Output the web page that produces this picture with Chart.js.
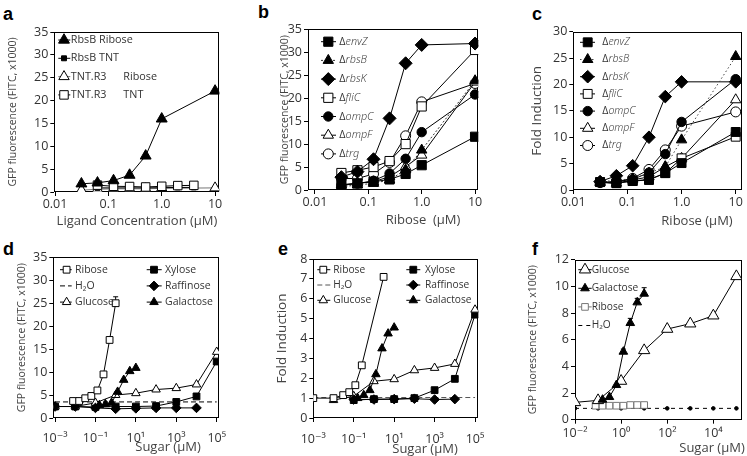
<!DOCTYPE html>
<html><head><meta charset="utf-8">
<script src="https://cdn.jsdelivr.net/npm/chart.js@4.4.1/dist/chart.umd.min.js"></script>
<style>
html,body{margin:0;padding:0;background:#fff;overflow:hidden;width:747px;height:456px;position:relative;font-family:'Open Sans','DejaVu Sans',sans-serif;}
canvas{position:absolute;}
.lt{position:absolute;font-family:'Liberation Sans',Arial,sans-serif;font-weight:bold;font-size:18px;line-height:18px;color:#000;}
.xt{position:absolute;font-size:13px;line-height:13px;color:#444;white-space:pre;transform:translate(-50%,-50%);}
</style></head><body>

<div class="lt" style="left:3px;top:5px">a</div>
<div class="lt" style="left:258px;top:3px">b</div>
<div class="lt" style="left:532px;top:5px">c</div>
<div class="lt" style="left:3px;top:240px">d</div>
<div class="lt" style="left:278px;top:240px">e</div>
<div class="lt" style="left:532px;top:240px">f</div>

<canvas id="ca" width="245" height="228" style="left:0;top:0"></canvas>
<canvas id="cb" width="250" height="228" style="left:245px;top:0"></canvas>
<canvas id="cc" width="265" height="228" style="left:495px;top:0"></canvas>
<canvas id="cd" width="245" height="228" style="left:0;top:228px"></canvas>
<canvas id="ce" width="250" height="228" style="left:245px;top:228px"></canvas>
<canvas id="cf" width="265" height="228" style="left:495px;top:228px"></canvas>

<div class="xt" style="left:137px;top:220px">Ligand Concentration (µM)</div>
<div class="xt" style="left:423px;top:219px">Ribose  (µM)</div>
<div class="xt" style="left:697px;top:220px">Ribose (µM)</div>
<div class="xt" style="left:168px;top:446px">Sugar (µM)</div>
<div class="xt" style="left:425px;top:448px">Sugar (µM)</div>
<div class="xt" style="left:712px;top:447px">Sugar (µM)</div>

<script>
// ---------------- DATA ----------------
// Panel a (GFP fluorescence x1000 vs ligand concentration, µM)
const a_conc = [0.03125, 0.0625, 0.125, 0.25, 0.5, 1, 10];
const a_concTNT = [0.0625, 0.125, 0.25, 0.5, 1, 2, 4];
const a_rbsB_ribose = [1.8, 2.0, 2.5, 3.7, 7.9, 16.0, 22.1];
const a_rbsB_TNT = [0.9, 0.9, 0.9, 0.9, 0.95, 1.0, 1.0];
const a_tntR3_ribose = [0.4, 0.6, 0.7, 0.7, 0.7, 0.8, 0.9];
const a_tntR3_TNT = [1.5, 1.25, 1.2, 1.1, 1.25, 1.4, 1.45];
const ribTickVals = [0.01, 0.1, 1, 10];
const ribTickLabels = ['0.01', '0.1', '1.0', '10'];

// Panel b (GFP fluorescence x1000 vs ribose, µM)
const b_ribose = [0.03125, 0.0625, 0.125, 0.25, 0.5, 1, 10];
const b_envZ = [1.1, 1.45, 1.8, 2.3, 3.5, 5.4, 11.6];
const b_rbsB = [0.7, 1.1, 1.45, 2.2, 4.4, 8.7, 23.8];
const b_rbsK = [2.8, 4.0, 6.7, 15.6, 27.6, 31.6, 31.9];
const b_fliC = [3.7, 4.3, 5.0, 6.3, 10.0, 18.2, 30.5];
const b_ompC = [1.0, 1.4, 2.0, 3.6, 6.8, 12.6, 20.8];
const b_ompF = [1.1, 1.5, 1.8, 2.9, 5.1, 7.6, 23.5];
const b_trg = [2.5, 2.5, 3.5, 6.0, 11.8, 19.2, 23.2];

// Panel c (fold induction vs ribose, µM)
const c_ribose = [0.03125, 0.0625, 0.125, 0.25, 0.5, 1, 10];
const c_envZ = [1.5, 1.3, 1.7, 1.9, 3.2, 5.1, 11.0];
const c_rbsB = [1.5, 1.9, 2.1, 3.2, 4.4, 9.5, 25.3];
const c_rbsK = [1.6, 2.7, 4.6, 10.0, 17.7, 20.5, 20.5];
const c_fliC = [1.5, 1.3, 1.7, 2.0, 3.2, 6.0, 10.1];
const c_ompC = [1.4, 1.6, 2.0, 3.3, 6.8, 12.9, 21.0];
const c_ompF = [1.4, 1.3, 1.9, 2.5, 4.4, 6.0, 17.1];
const c_trg = [1.4, 1.6, 2.2, 3.9, 7.6, 12.1, 14.8];

// Panel d (GFP fluorescence x1000 vs sugar, µM)
const sugarX = [0.001, 0.01, 0.1, 1, 10, 100, 1000, 10000, 100000];
const d_riboseX = [0.0078125, 0.015625, 0.03125, 0.0625, 0.125, 0.25, 0.5, 1];
const d_ribose = [3.7, 3.7, 4.3, 4.8, 6.0, 9.5, 17.0, 25.0];
const d_riboseErr = [0, 0, 0, 0, 0, 0, 0, 1.4];
const d_h2o = [3.5, 3.5, 3.5, 3.5, 3.5, 3.5, 3.5, 3.5, 3.5];
const d_glucose = [2.5, 2.5, 3.3, 5.0, 5.4, 6.2, 6.5, 7.3, 14.4];
const d_xylose = [2.5, 2.5, 2.4, 2.5, 2.5, 2.6, 3.5, 4.7, 12.3];
const raffX = [0.001, 0.01, 0.1, 1, 10, 100, 1000, 10000];
const d_raffinose = [2.5, 2.5, 2.2, 2.0, 2.1, 2.2, 2.2, 2.2];
const galX = [0.15625, 0.3125, 0.625, 1.25, 2.5, 5, 10];
const d_galactose = [2.8, 3.0, 3.3, 5.7, 8.3, 10.2, 10.9];
const sugTickVals = [1e-3, 1e-1, 1e1, 1e3, 1e5];
const sugTickLabels = ['10⁻³', '10⁻¹', '10¹', '10³', '10⁵'];

// Panel e (fold induction vs sugar, µM)
const e_riboseX = [0.001, 0.01, 0.03, 0.06, 0.12, 0.25, 3];
const e_ribose = [1.0, 1.0, 1.15, 1.3, 1.65, 2.65, 7.1];
const e_h2o = [1.03, 1.03, 1.03, 1.03, 1.03, 1.03, 1.03, 1.03, 1.03];
const e_glucoseX = [0.01, 0.1, 1, 10, 100, 1000, 10000, 100000];
const e_glucose = [0.9, 1.1, 1.85, 1.95, 2.4, 2.52, 2.72, 5.45];
const e_xyloseX = [0.1, 1, 10, 100, 1000, 10000, 100000];
const e_xylose = [0.9, 0.95, 0.95, 1.0, 1.4, 1.97, 5.2];
const e_raffX = [0.1, 1, 10, 100, 1000, 10000];
const e_raffinose = [0.93, 0.93, 0.95, 0.97, 0.93, 0.95];
const e_galactose = [1.0, 1.15, 1.4, 2.2, 3.5, 4.25, 4.55];

// Panel f (GFP fluorescence x1000 vs sugar, µM)
const f_glucoseX = [0.01, 0.1, 1, 10, 100, 1000, 10000, 100000];
const f_glucose = [1.3, 1.45, 2.9, 5.2, 6.8, 7.2, 7.8, 10.75];
const f_galactose = [1.5, 1.7, 2.6, 5.1, 7.25, 8.8, 9.45];
const f_galErr = [0, 0, 0, 0.2, 0.35, 0.3, 0.45];
const f_riboseX = [0.078125, 0.15625, 0.3125, 0.625, 1.25, 2.5, 5, 10];
const f_ribose = [1.05, 1.05, 1.05, 1.05, 1.05, 1.1, 1.1, 1.1];
const f_h2oX = [0.01, 0.1, 1, 10, 100, 1000, 10000, 100000];
const f_h2o = [0.85, 0.85, 0.85, 0.85, 0.85, 0.85, 0.85, 0.85];
const fTickVals = [1e-2, 1, 1e2, 1e4];
const fTickLabels = ['10⁻²', '10⁰', '10²', '10⁴'];

// ---------------- RENDERING ----------------
const FONT = "'Open Sans','DejaVu Sans',sans-serif";
const IFONT = "'Noto Sans','Liberation Sans','DejaVu Sans',sans-serif";
Chart.defaults.font.family = FONT;
Chart.defaults.color = '#333';

function ser(label, xs, ys, st) {
  return Object.assign({
    label, data: xs.map((x, i) => ({x: x, y: ys[i]})),
    borderColor: '#000', borderWidth: 1, pointBorderColor: '#000', pointBorderWidth: 1,
    pointBackgroundColor: '#000', pointStyle: 'circle', pointRadius: 4.7,
    showLine: true, fill: false, tension: 0
  }, st);
}
const FT = r => ({pointStyle: 'triangle', pointRadius: r, pointBackgroundColor: '#000'});
const OT = r => ({pointStyle: 'triangle', pointRadius: r, pointBackgroundColor: '#fff'});
const FS = r => ({pointStyle: 'rect', pointRadius: r, pointBackgroundColor: '#000'});
const OS = r => ({pointStyle: 'rect', pointRadius: r, pointBackgroundColor: '#fff'});
const FD = r => ({pointStyle: 'rectRot', pointRadius: r, pointBackgroundColor: '#000'});
const FC = r => ({pointStyle: 'circle', pointRadius: r, pointBackgroundColor: '#000'});
const OC = r => ({pointStyle: 'circle', pointRadius: r, pointBackgroundColor: '#fff'});

const boxPlugin = {
  id: 'box',
  beforeDatasetsDraw(chart) {
    const {ctx, chartArea: c} = chart;
    ctx.save(); ctx.strokeStyle = '#000'; ctx.lineWidth = 1;
    const l = Math.round(c.left) + 0.5, t = Math.round(c.top) + 0.5, r = Math.round(c.right) - 0.5, b = Math.round(c.bottom) - 0.5;
    ctx.strokeRect(l, t, r - l, b - t);
    ctx.restore();
  }
};
const errPlugin = {
  id: 'errBars',
  beforeDatasetsDraw(chart, args, o) {
    if (!o || !o.list) return;
    const ctx = chart.ctx, xs = chart.scales.x, ys = chart.scales.y;
    ctx.save(); ctx.strokeStyle = '#000'; ctx.lineWidth = 1;
    for (const e of o.list) {
      chart.data.datasets[e.ds].data.forEach((p, i) => {
        const d = e.err[i]; if (!d) return;
        const px = xs.getPixelForValue(p.x), y0 = ys.getPixelForValue(p.y), y1 = ys.getPixelForValue(p.y + d);
        ctx.beginPath(); ctx.moveTo(px, y0); ctx.lineTo(px, y1);
        ctx.moveTo(px - 2.5, y1); ctx.lineTo(px + 2.5, y1); ctx.stroke();
      });
    }
    ctx.restore();
  }
};
const legendPlugin = {
  id: 'boxLegend',
  afterDatasetsDraw(chart, args, o) {
    if (!o || !o.items) return;
    const ctx = chart.ctx, ca = chart.chartArea;
    ctx.save(); ctx.textBaseline = 'middle'; ctx.textAlign = 'left';
    for (const it of o.items) {
      const ds = chart.data.datasets[it.ds];
      const y = ca.top + it.y;
      ctx.strokeStyle = ds.borderColor; ctx.lineWidth = 1; ctx.setLineDash(ds.borderDash || []);
      ctx.beginPath(); ctx.moveTo(ca.left + it.l1, y); ctx.lineTo(ca.left + it.l2, y); ctx.stroke();
      ctx.setLineDash([]);
      if (!it.noMarker && ds.pointRadius > 0) {
        ctx.fillStyle = ds.pointBackgroundColor; ctx.strokeStyle = ds.pointBorderColor; ctx.lineWidth = 1;
        Chart.helpers.drawPoint(ctx, {pointStyle: ds.pointStyle, radius: ds.pointRadius, rotation: 0, borderWidth: 1}, ca.left + it.mx, y);
      }
      ctx.fillStyle = '#333';
      let tx = ca.left + it.tx;
      const parts = ds.label.split('\t');
      const sz = o.size;
      if (parts[0].startsWith('Δ')) {
        ctx.font = 'normal 400 ' + sz + 'px ' + FONT; ctx.fillText('Δ', tx, y); tx += ctx.measureText('Δ').width;
        ctx.fillStyle = '#444';
        ctx.font = 'italic 300 ' + sz + 'px ' + IFONT; ctx.fillText(parts[0].slice(1), tx, y);
      } else {
        ctx.font = 'normal 400 ' + sz + 'px ' + FONT; ctx.fillText(parts[0], tx, y);
      }
      if (parts[1]) { ctx.font = 'normal 400 ' + sz + 'px ' + FONT; ctx.fillText(parts[1], ca.left + o.tab, y); }
    }
    ctx.restore();
  }
};
function legendCol(idxs, s) {
  return idxs.map((d, k) => ({ds: d, y: s.y0 + k * s.dy, mx: s.mx, tx: s.tx, l1: s.l1, l2: s.l2,
    noMarker: (s.noMarker || []).includes(d)}));
}

function buildChart(id, p) {
  const grid = {display: true, drawOnChartArea: false, drawTicks: true, tickLength: 4, color: '#000'};
  return new Chart(document.getElementById(id), {
    type: 'line',
    data: {datasets: p.datasets},
    options: {
      responsive: false, animation: false, events: [],
      layout: {padding: {left: 0, top: p.padTop, right: p.padRight, bottom: 0}},
      plugins: {legend: {display: false}, tooltip: {enabled: false},
        boxLegend: p.legend, errBars: {list: p.errors || []}},
      scales: {
        x: {type: 'logarithmic', min: p.xMin, max: p.xMax,
          afterBuildTicks: s => { s.ticks = p.xTicks.map(v => ({value: v})); },
          afterFit: s => { s.height = p.xHeight; },
          ticks: {autoSkip: false, maxRotation: 0, minRotation: 0, padding: p.xPad, font: {size: 12.5}, color: '#333',
            callback: (v, i) => p.xLabels[i]},
          grid: grid, border: {display: false}},
        y: {type: 'linear', min: 0, max: p.yMax,
          afterFit: s => { s.width = p.yWidth; },
          ticks: {stepSize: p.yStep, padding: 2, font: {size: 12.5}, color: '#333'},
          grid: grid, border: {display: false},
          title: {display: true, text: p.yTitle, color: '#444', font: {size: p.yTitleSize},
            padding: {top: p.yTitlePad, bottom: 0}}}
      }
    },
    plugins: [boxPlugin, errPlugin, legendPlugin]
  });
}

const GFP = 'GFP fluorescence (FITC, x1000)';
const FOLD = 'Fold Induction';

// Panel a
buildChart('ca', {
  datasets: [
    ser('RbsB Ribose', a_conc, a_rbsB_ribose, Object.assign(FT(6.3), {order: 0})),
    ser('RbsB TNT', a_concTNT, a_rbsB_TNT, Object.assign(FS(3.5), {order: 2})),
    ser('TNT.R3\tRibose', a_conc, a_tntR3_ribose, Object.assign(OT(6), {borderColor: '#777', order: 3})),
    ser('TNT.R3\tTNT', a_concTNT, a_tntR3_TNT, Object.assign(OS(6), {order: 1}))
  ],
  xMin: 0.0097, xMax: 12, xTicks: ribTickVals, xLabels: ribTickLabels,
  yMax: 35, yStep: 5, yTitle: GFP, yTitleSize: 10.5, yTitlePad: 6.7,
  yWidth: 54.3, xHeight: 36, xPad: 1, padTop: 32, padRight: 25.7,
  legend: {size: 10.8, tab: 69, items: legendCol([0, 1, 2, 3], {y0: 8, dy: 18.3, mx: 9.7, tx: 16.5, l1: 4, l2: 16})}
});

// Panel b
buildChart('cb', {
  datasets: [
    ser('ΔenvZ', b_ribose, b_envZ, FS(6.5)),
    ser('ΔrbsB', b_ribose, b_rbsB, Object.assign(FT(6), {borderDash: [2, 2], borderColor: '#333'})),
    ser('ΔrbsK', b_ribose, b_rbsK, FD(6.5)),
    ser('ΔfliC', b_ribose, b_fliC, OS(6.5)),
    ser('ΔompC', b_ribose, b_ompC, FC(4.7)),
    ser('ΔompF', b_ribose, b_ompF, OT(6)),
    ser('Δtrg', b_ribose, b_trg, OC(5))
  ],
  xMin: 0.0074, xMax: 11.5, xTicks: ribTickVals, xLabels: ribTickLabels,
  yMax: 35, yStep: 5, yTitle: GFP, yTitleSize: 10.5, yTitlePad: 33.7,
  yWidth: 63, xHeight: 38, xPad: 1, padTop: 29.3, padRight: 16.7,
  legend: {size: 10.8, items: legendCol([0, 1, 2, 3, 4, 5, 6], {y0: 12.4, dy: 18.7, mx: 20.3, tx: 31.3, l1: 13, l2: 28})}
});

// Panel c
buildChart('cc', {
  datasets: [
    ser('ΔenvZ', c_ribose, c_envZ, FS(6.3)),
    ser('ΔrbsB', c_ribose, c_rbsB, Object.assign(FT(6), {borderDash: [1.5, 2.5], borderColor: '#444'})),
    ser('ΔrbsK', c_ribose, c_rbsK, FD(6.3)),
    ser('ΔfliC', c_ribose, c_fliC, OS(6.3)),
    ser('ΔompC', c_ribose, c_ompC, FC(4.7)),
    ser('ΔompF', c_ribose, c_ompF, OT(6)),
    ser('Δtrg', c_ribose, c_trg, OC(5))
  ],
  xMin: 0.01, xMax: 12.9, xTicks: ribTickVals, xLabels: ribTickLabels,
  yMax: 30, yStep: 5, yTitle: FOLD, yTitleSize: 13.5, yTitlePad: 33.6,
  yWidth: 78.3, xHeight: 38, xPad: 1, padTop: 31.7, padRight: 18.3,
  legend: {size: 10.5, items: legendCol([0, 1, 2, 3, 4, 5, 6], {y0: 10.6, dy: 17.2, mx: 14.4, tx: 29, l1: 6.7, l2: 21.7})}
});

// Panel d
buildChart('cd', {
  datasets: [
    ser('Ribose', d_riboseX, d_ribose, Object.assign(OS(4.8), {order: 0})),
    ser('H₂O', sugarX, d_h2o, {pointRadius: 0, borderDash: [5, 3], order: 6}),
    ser('Glucose', sugarX, d_glucose, Object.assign(OT(4.9), {order: 3})),
    ser('Xylose', sugarX, d_xylose, Object.assign(FS(4.8), {order: 4})),
    ser('Raffinose', raffX, d_raffinose, Object.assign(FD(4.8), {order: 1})),
    ser('Galactose', galX, d_galactose, Object.assign(FT(4.9), {order: 2}))
  ],
  errors: [{ds: 0, err: d_riboseErr}],
  xMin: 0.00082, xMax: 130000, xTicks: sugTickVals, xLabels: sugTickLabels,
  yMax: 35, yStep: 5, yTitle: GFP, yTitleSize: 10.5, yTitlePad: 15.4,
  yWidth: 53.3, xHeight: 38, xPad: 9, padTop: 29.3, padRight: 26,
  legend: {size: 10.5, items: legendCol([0, 1, 2], {y0: 12.4, dy: 16.2, mx: 13.3, tx: 21.7, l1: 6.7, l2: 18.4, noMarker: [1]})
    .concat(legendCol([3, 4, 5], {y0: 12.4, dy: 16.2, mx: 100.7, tx: 111.7, l1: 93.4, l2: 108.4}))}
});

// Panel e
buildChart('ce', {
  datasets: [
    ser('Ribose', e_riboseX, e_ribose, Object.assign(OS(4.8), {order: 0})),
    ser('H₂O', sugarX, e_h2o, {pointRadius: 0, borderDash: [5, 3], borderColor: '#555', order: 6}),
    ser('Glucose', e_glucoseX, e_glucose, Object.assign(OT(4.9), {order: 3})),
    ser('Xylose', e_xyloseX, e_xylose, Object.assign(FS(4.8), {order: 4})),
    ser('Raffinose', e_raffX, e_raffinose, Object.assign(FD(4.8), {order: 1})),
    ser('Galactose', galX, e_galactose, Object.assign(FT(4.9), {order: 2}))
  ],
  xMin: 0.001, xMax: 145000, xTicks: sugTickVals, xLabels: sugTickLabels,
  yMax: 8, yStep: 1, yTitle: FOLD, yTitleSize: 13.5, yTitlePad: 28.6,
  yWidth: 68.3, xHeight: 38, xPad: 9.5, padTop: 31, padRight: 16.7,
  legend: {size: 10.2, items: legendCol([0, 1, 2], {y0: 10.7, dy: 15.3, mx: 10, tx: 20, l1: 4, l2: 17, noMarker: [1]})
    .concat(legendCol([3, 4, 5], {y0: 10.7, dy: 15.3, mx: 100, tx: 111.7, l1: 93, l2: 107}))}
});

// Panel f
buildChart('cf', {
  datasets: [
    ser('Glucose', f_glucoseX, f_glucose, Object.assign(OT(6.5), {order: 1})),
    ser('Galactose', galX, f_galactose, Object.assign(FT(5), {order: 0})),
    ser('Ribose', f_riboseX, f_ribose, Object.assign(OS(4.7), {pointBorderColor: '#777', borderColor: '#777', order: 2})),
    ser('H₂O', f_h2oX, f_h2o, {pointRadius: 1.8, pointStyle: 'circle', borderDash: [4, 4], order: 3})
  ],
  errors: [{ds: 1, err: f_galErr}],
  xMin: 0.01, xMax: 170000, xTicks: fTickVals, xLabels: fTickLabels,
  yMax: 12, yStep: 2, yTitle: GFP, yTitleSize: 10.5, yTitlePad: 31.7,
  yWidth: 80, xHeight: 36.3, xPad: 2, padTop: 31.7, padRight: 18.3,
  legend: {size: 10.2, items: legendCol([0, 1, 2, 3], {y0: 10, dy: 18.6, mx: 10, tx: 16.7, l1: 3.3, l2: 16.7, noMarker: [3]})}
});
</script>
</body></html>
